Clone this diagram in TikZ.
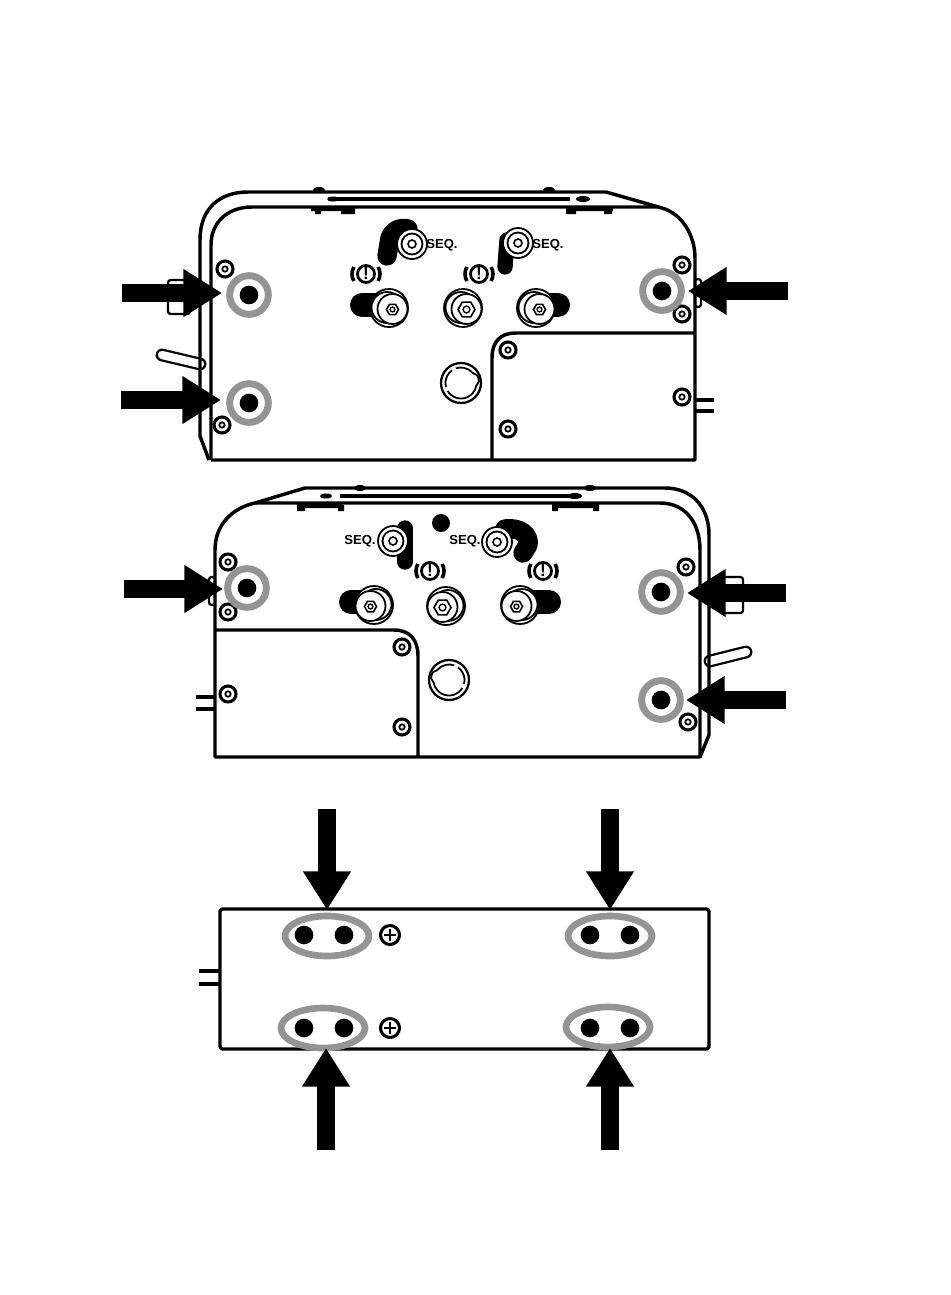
\documentclass[tikz,border=0pt]{standalone}
\usepackage{fontspec}
\setmainfont{Liberation Sans}
\usetikzlibrary{arrows.meta,shapes.geometric}

\definecolor{ringgray}{gray}{0.58}

\tikzset{
  body/.style={line width=2.6pt,line join=round},
  thin part/.style={line width=1.35pt},
  ringmark/.style={circle,draw=ringgray,fill=white,line width=5.2pt,inner sep=0pt,minimum size=29pt},
  dotmark/.style={circle,fill=black,inner sep=0pt,minimum size=14pt},
  ovalmark/.style={ellipse,draw=ringgray,line width=5pt,inner sep=0pt,minimum width=63pt,minimum height=30pt},
  blockarrow/.style={-{Triangle[length=29pt,width=34pt]},line width=13pt},
  blob/.style={line width=#1,line cap=round,line join=round},
  seqtext/.style={font=\fontsize{9.8}{10}\selectfont\bfseries,inner sep=0pt},
  pics/screw/.style={code={
    \draw[line width=2.3pt,fill=white] (0,0) circle (8);
    \draw[line width=1.3pt] (0,0) circle (2.7);
  }},
  pics/seqbolt/.style={code={
    \draw[thin part,fill=white] (0,0) circle (15);
    \draw[thin part] (0,0) circle (10.5);
    \draw[line width=1.2pt] (0,0) circle (4);
  }},
  pics/bigbolt/.style={code={
    \draw[thin part,fill=white] (0,0) circle (19);
    \draw[thin part] (-2,-0.5) circle (15.5);
    \draw[thin part,fill=white] (3.5,1) circle (15);
    \draw[line width=1.2pt,shift={(3.5,1.5)}] (0:#1) -- (60:#1) -- (120:#1) -- (180:#1) -- (240:#1) -- (300:#1) -- cycle;
    \draw[line width=1pt,shift={(3.5,1.5)}] (0,0) circle (0.4*#1);
  }},
  pics/warnsign/.style={code={
    \draw[line width=2.1pt] (0,0) circle (8.5);
    \draw[line width=2.7pt] (150:14) arc (150:210:14) (-30:14) arc (-30:30:14);
    \node[font=\fontsize{13}{13}\selectfont\bfseries,inner sep=0pt] (-mark) at (0,0) {!};
  }},
  pics/knob/.style={code={
    \draw[line width=1.7pt,fill=white] (0,0) circle (20);
    \draw[thin part] (40:15.5) arc (40:320:15.5) -- (-25:18) arc (-25:-5:18) -- (10:15.5) arc (10:40:15.5);
    \draw[line width=2pt,white] (150:15.5) arc (150:165:15.5) (235:15.5) arc (235:250:15.5);
  }},
  pics/plusmark/.style={code={
    \draw[line width=2.3pt] (0,0) circle (9.5);
    \draw[line width=2.2pt] (-6,0) -- (6,0) (0,-6) -- (0,6);
  }}
}

\begin{document}
\begin{tikzpicture}[x=0.75pt,y=-0.75pt]
  \useasboundingbox (0,0) rectangle (950,1295);

  % upper unit
  \draw[line width=1.7pt,rounded corners=2,fill=white] (168,280) rectangle (190,314);
  \draw[line width=1.7pt,rounded corners=2] (695,279) rectangle (701,307);
  \draw[line width=9.6pt,line cap=round] (162,355) -- (200,364);
  \draw[line width=6.2pt,line cap=round,white] (162,355) -- (200,364);
  \draw[body] (209,460) -- (200,436) -- (200,240) .. controls (200,208) and (220,192) .. (248,192) -- (606,192) -- (662,208)
    .. controls (682,214) and (695,235) .. (695,258) -- (695,460) -- (211,460);
  \draw[body] (211,460) -- (211,245) .. controls (211,222) and (228,207) .. (252,207) -- (658,207);
  \draw[body] (492,460) -- (492,358) .. controls (492,342) and (500,333) .. (516,333) -- (695,333);
  \draw[line width=2.4pt] (334,199) -- (570,199) (695,400) -- (714,400) (695,411) -- (714,411);
  \fill (319,190) ellipse (6 and 3) (549,190) ellipse (6 and 3) (333,199) ellipse (6 and 2.5) (583,199) ellipse (7 and 3);
  \fill (311,206) rectangle (355,211) (315,208) rectangle (321,214) (341,208) rectangle (355,214);
  \fill (566,206) rectangle (613,211) (566,208) rectangle (576,214) (604,208) rectangle (612,214);

  \foreach \sx/\sy in {225/269,222/425,682/265,682/314,682/397,508/350,508/429}
    \pic at (\sx,\sy) {screw};

  \draw[blob=14.5pt] (387,256) -- (390,238) .. controls (393,230) and (400,227) .. (408,229);
  \pic at (412,244) {seqbolt};
  \draw[blob=11.5pt] (505,267) -- (507,240);
  \pic at (518,243) {seqbolt};
  \node[seqtext] (seqa) at (442,245) {SEQ.};
  \node[seqtext] (seqb) at (548,245) {SEQ.};
  \pic (warna) at (366,274) {warnsign};
  \pic (warnb) at (479,274) {warnsign};
  \draw[blob=18pt] (362,305) -- (385,305);
  \draw[blob=18pt] (558,305) -- (535,305);
  \pic at (389,308) {bigbolt=6};
  \pic at (463,308) {bigbolt=8.5};
  \pic at (536,308) {bigbolt=6};
  \pic at (461,383) {knob};

  % lower unit
  \draw[line width=1.7pt,rounded corners=2] (209,577) rectangle (215,605);
  \draw[line width=1.7pt,rounded corners=2] (720,577) -- (743,577) -- (743,613) -- (720,613);
  \draw[line width=9.6pt,line cap=round] (710,661) -- (746,652);
  \draw[line width=6.2pt,line cap=round,white] (710,661) -- (746,652);
  \draw[body] (700,757) -- (709,735) -- (709,535) .. controls (709,505) and (690,488) .. (665,488) -- (305,488) -- (255,503);
  \draw[body] (215,757) -- (215,550) .. controls (215,525) and (232,508) .. (255,503) .. controls (258,503) and (262,503) .. (268,503)
    -- (660,503) .. controls (685,503) and (700,522) .. (700,550) -- (700,757) -- cycle;
  \draw[body] (215,630) -- (394,630) .. controls (410,630) and (418,640) .. (418,656) -- (418,757);
  \draw[line width=2.4pt] (340,496) -- (575,496) (196,697) -- (215,697) (196,709) -- (215,709);
  \fill (360,488) ellipse (6 and 3) (590,488) ellipse (6 and 3) (326,496) ellipse (6 and 2.5) (575,496) ellipse (7 and 3);
  \fill (297,503) rectangle (342,508) (297,505) rectangle (305,511) (338,505) rectangle (344,511);
  \fill (552,503) rectangle (599,508) (552,505) rectangle (558,511) (593,505) rectangle (599,511);
  \fill (441,523) circle (9);

  \foreach \sx/\sy in {228/562,228/612,228/694,402/647,402/727,686/567,688/722}
    \pic at (\sx,\sy) {screw};

  \draw[blob=11.5pt] (405,528) -- (405,562);
  \pic at (393,541) {seqbolt};
  \draw[blob=14.5pt] (505,529) .. controls (520,527) and (530,535) .. (528,545) -- (523,553);
  \pic at (497,542) {seqbolt};
  \node[seqtext] (seqc) at (360,541) {SEQ.};
  \node[seqtext] (seqd) at (465,541) {SEQ.};
  \pic (warnc) at (430,571) {warnsign};
  \pic (warnd) at (543,571) {warnsign};
  \draw[blob=18pt] (351,602) -- (375,602);
  \draw[blob=18pt] (549,602) -- (525,602);
  \pic[xscale=-1] at (374,605) {bigbolt=6};
  \pic[xscale=-1] at (446,606) {bigbolt=8.5};
  \pic[xscale=-1] at (520,605) {bigbolt=6};
  \pic[xscale=-1] at (449,680) {knob};

  % terminal plate
  \draw[body,rounded corners=2] (220,909) rectangle (709,1049);
  \draw[line width=2.4pt] (199,971) -- (220,971) (199,984) -- (220,984);
  \pic at (390,935) {plusmark};
  \pic at (390,1028) {plusmark};

  \foreach \n/\ox/\oy in {a/327/936,b/610/936,c/323/1028,d/608/1027}
    \node[ovalmark] (oval\n) at (\ox,\oy) {};
  \foreach \n/\dx/\dy in {a/304/935,b/344/935,c/590/935,d/630/935,e/304/1028,f/344/1028,g/590/1028,h/630/1028}
    \node[dotmark] (pin\n) at (\dx,\dy) {};

  % marked terminals
  \foreach \n/\rx/\ry in {a/249/295,b/249/403,c/662/291,d/247/588,e/661/592,f/661/700} {
    \node[ringmark] (ring\n) at (\rx,\ry) {};
    \node[dotmark] (hole\n) at (\rx,\ry) {};
  }

  \foreach \n/\tx/\ty/\hx/\hy in {a/122/293/222/293,b/121/400/221/400,c/788/291/688/291,d/124/589/223/589,
      e/786/593/687/593,f/786/700/686/700,g/327/809/327/910,h/610/809/610/910,i/326/1150/326/1048,j/610/1150/610/1048} {
    \coordinate (tail\n) at (\tx,\ty);
    \coordinate (tip\n) at (\hx,\hy);
    \draw[blockarrow] (tail\n) -- (tip\n);
  }
\end{tikzpicture}
\end{document}
